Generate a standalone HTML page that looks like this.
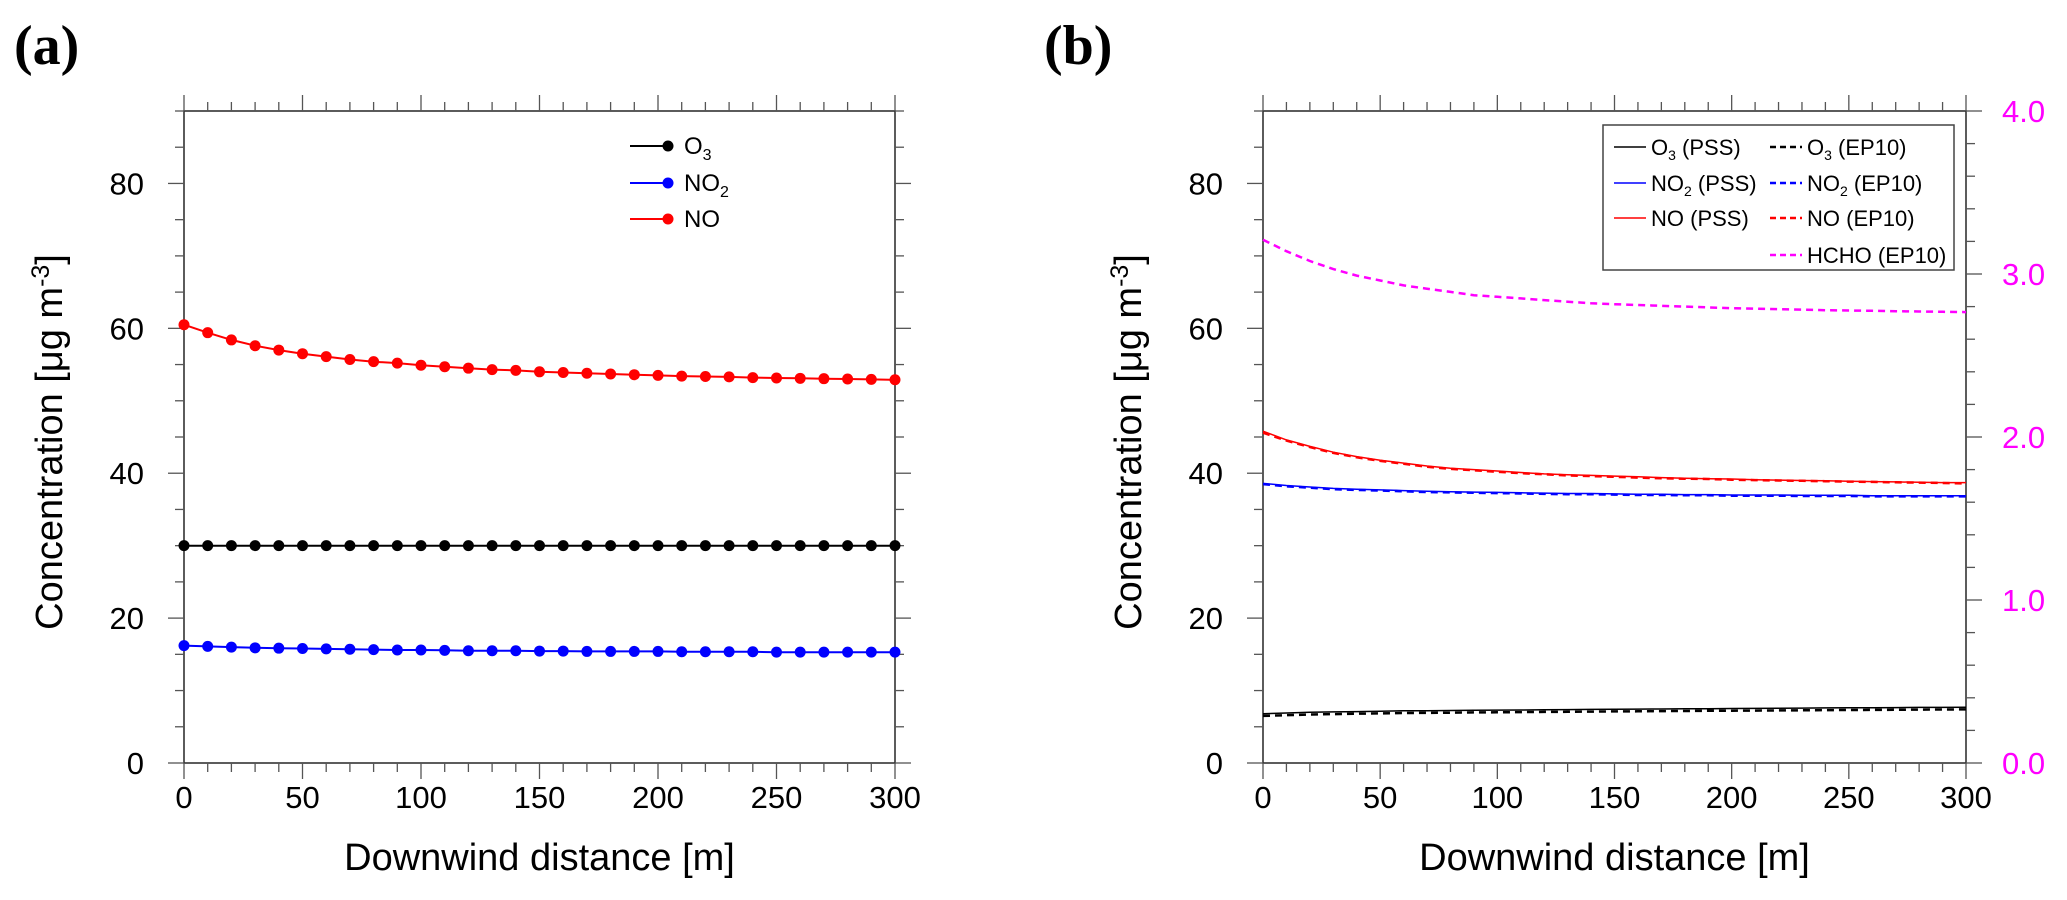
<!DOCTYPE html>
<html><head><meta charset="utf-8"><style>
html,body{margin:0;padding:0;background:#fff;}
svg{display:block;font-family:"Liberation Sans",sans-serif;}
</style></head><body>
<svg id="chart" width="2067" height="900" xmlns="http://www.w3.org/2000/svg"></svg>
<script>
const distances=[0,10,20,30,40,50,60,70,80,90,100,110,120,130,140,150,160,170,180,190,200,210,220,230,240,250,260,270,280,290,300];
const aO3=[30,30,30,30,30,30,30,30,30,30,30,30,30,30,30,30,30,30,30,30,30,30,30,30,30,30,30,30,30,30,30];
const aNO2=[16.2,16.1,16.0,15.9,15.85,15.8,15.75,15.7,15.65,15.6,15.6,15.55,15.5,15.5,15.5,15.45,15.45,15.4,15.4,15.4,15.4,15.35,15.35,15.35,15.35,15.3,15.3,15.3,15.3,15.3,15.3];
const aNO=[60.5,59.4,58.4,57.6,57.0,56.5,56.1,55.7,55.4,55.2,54.9,54.7,54.5,54.3,54.2,54.0,53.9,53.8,53.7,53.6,53.5,53.4,53.35,53.3,53.2,53.15,53.1,53.05,53.0,52.95,52.9];
const bNOpss=[45.8,44.6,43.7,42.9,42.3,41.8,41.4,41.0,40.7,40.5,40.3,40.1,39.9,39.8,39.7,39.6,39.5,39.4,39.3,39.25,39.2,39.1,39.05,39.0,38.95,38.9,38.85,38.8,38.75,38.7,38.7];
const bNOep=[45.6,44.5,43.6,42.8,42.2,41.7,41.3,40.9,40.6,40.4,40.2,40.0,39.85,39.7,39.6,39.5,39.4,39.3,39.25,39.2,39.1,39.05,39.0,38.95,38.9,38.85,38.8,38.75,38.7,38.65,38.6];
const bNO2pss=[38.6,38.3,38.1,37.9,37.8,37.7,37.6,37.5,37.45,37.4,37.35,37.3,37.25,37.2,37.2,37.15,37.1,37.1,37.05,37.05,37.0,37.0,37.0,36.95,36.95,36.95,36.9,36.9,36.9,36.9,36.9];
const bNO2ep=[38.5,38.2,38.0,37.8,37.7,37.6,37.5,37.4,37.35,37.3,37.25,37.2,37.15,37.1,37.1,37.05,37.0,37.0,36.95,36.95,36.9,36.9,36.9,36.85,36.85,36.85,36.8,36.8,36.8,36.8,36.8];
const bO3pss=[6.8,6.9,7.0,7.05,7.1,7.15,7.2,7.22,7.25,7.28,7.3,7.32,7.35,7.37,7.4,7.42,7.44,7.46,7.48,7.5,7.52,7.54,7.56,7.58,7.6,7.62,7.63,7.65,7.67,7.68,7.7];
const bO3ep=[6.5,6.6,6.7,6.75,6.8,6.85,6.9,6.92,6.95,6.98,7.0,7.02,7.05,7.07,7.1,7.12,7.14,7.16,7.18,7.2,7.22,7.24,7.26,7.28,7.3,7.32,7.33,7.35,7.37,7.38,7.4];
const bHCHO=[3.21,3.14,3.08,3.03,2.99,2.96,2.93,2.91,2.89,2.87,2.86,2.85,2.84,2.83,2.82,2.815,2.81,2.805,2.80,2.795,2.79,2.787,2.784,2.781,2.778,2.776,2.774,2.772,2.77,2.768,2.766];
const xTicks=[0,50,100,150,200,250,300];
const yTicks=[0,20,40,60,80];
const y2Ticks=["0.0","1.0","2.0","3.0","4.0"];

const NS="http://www.w3.org/2000/svg";
const svg=document.getElementById('chart');
function el(tag,attrs,parent,text){const e=document.createElementNS(NS,tag);for(const k in attrs)e.setAttribute(k,attrs[k]);if(text!==undefined)e.textContent=text;(parent||svg).appendChild(e);return e;}

const Y0=763,Y1=111;
function makeY(v){return Y0-(v/90)*(Y0-Y1);}
function makeY2(v){return Y0-(v/4)*(Y0-Y1);}

function drawPanel(x0,x1,panel,rightAxis){
  const g=el('g',{});
  
  
  const sx=v=>x0+(v/300)*(x1-x0);
  const ax={stroke:'#333','stroke-width':1.6,fill:'none'};
  const box=el('rect',{x:x0,y:Y1,width:x1-x0,height:Y0-Y1,...ax},g);
  
  
  for(let v=0;v<=300;v+=10){
    const maj=v%50===0,L=maj?16:9;const x=sx(v);
    el('line',{x1:x,x2:x,y1:Y0,y2:Y0+L,stroke:'#555','stroke-width':1.3},g);
    el('line',{x1:x,x2:x,y1:Y1,y2:Y1-L,stroke:'#555','stroke-width':1.3},g);
  }
  xTicks.forEach(v=>{const t=el('text',{x:sx(v),y:808,'font-size':31,'text-anchor':'middle'},g,String(v));
    
    });
  for(let v=0;v<=90;v+=5){
    const maj=v%20===0,L=maj?16:9;const y=makeY(v);
    el('line',{x1:x0,x2:x0-L,y1:y,y2:y,stroke:'#555','stroke-width':1.3},g);
    if(!rightAxis) el('line',{x1:x1,x2:x1+L,y1:y,y2:y,stroke:'#555','stroke-width':1.3},g);
  }
  yTicks.forEach(v=>{const t=el('text',{x:x0-40,y:makeY(v)+11,'font-size':31,'text-anchor':'end'},g,String(v));
    
    });
  if(rightAxis){
    for(let i=0;i<=20;i++){const v=i*0.2;const maj=i%5===0,L=maj?16:9;const y=makeY2(v);
      el('line',{x1:x1,x2:x1+L,y1:y,y2:y,stroke:'#555','stroke-width':1.3},g);}
    y2Ticks.forEach(s=>{const t=el('text',{x:x1+36,y:makeY2(parseFloat(s))+11,'font-size':31,fill:'#ff00ff'},g,s);
      
      });
  }
  const xt=el('text',{x:(x0+x1)/2,y:870,'font-size':38,'text-anchor':'middle'},g,'Downwind distance [m]');
  
  
  const cx=x0-122,cy=(Y0+Y1)/2+5;
  const yt=el('text',{x:cx,y:cy,'font-size':38,'text-anchor':'middle',transform:`rotate(-90 ${cx} ${cy})`},g);
  
  
  el('tspan',{},yt,'Concentration [μg m');
  el('tspan',{dy:-13,'font-size':25},yt,'-3');
  el('tspan',{dy:13},yt,']');
  return {g,sx};
}
function series(p,data,yf,color,dash,w,name){
  const pts=data.map((v,i)=>p.sx(distances[i]).toFixed(1)+','+yf(v).toFixed(1)).join(' ');
  const l=el('polyline',{points:pts,fill:'none',stroke:color,'stroke-width':w,'stroke-dasharray':dash||'none'},p.g);
  
  
  return l;
}

const pa=drawPanel(184,895,'a',false);
[[aO3,'#000','o3'],[aNO2,'#0000ff','no2'],[aNO,'#ff0000','no']].forEach(([d,c,n])=>{
  series(pa,d,makeY,c,null,2,'line-'+n);
  d.forEach((v,i)=>{const m=el('circle',{cx:pa.sx(distances[i]),cy:makeY(v),r:5.5,fill:c},pa.g);
    
    });
});
const legA=el('g',{},pa.g);


[['O','3','#000',146],['NO','2','#0000ff',183],['NO','','#ff0000',219]].forEach(([t,s,c,y])=>{
  el('line',{x1:630,x2:668,y1:y,y2:y,stroke:c,'stroke-width':2},legA);
  el('circle',{cx:668,cy:y,r:5.5,fill:c},legA);
  const tx=el('text',{x:684,y:y+8,'font-size':24},legA,t);
  if(s)el('tspan',{dy:6,'font-size':16},tx,s);
});

const pb=drawPanel(1263,1966,'b',true);
series(pb,bO3pss,makeY,'#000',null,1.5,'line-o3-pss');
series(pb,bO3ep,makeY,'#000','7,5',2.5,'line-o3-ep10');
series(pb,bNO2pss,makeY,'#0000ff',null,1.5,'line-no2-pss');
series(pb,bNO2ep,makeY,'#0000ff','7,5',2.5,'line-no2-ep10');
series(pb,bNOpss,makeY,'#ff0000',null,1.5,'line-no-pss');
series(pb,bNOep,makeY,'#ff0000','7,5',2.5,'line-no-ep10');
series(pb,bHCHO,makeY2,'#ff00ff','7,5',2.5,'line-hcho-ep10');
const legB=el('g',{},pb.g);


el('rect',{x:1603,y:125,width:351,height:145,fill:'#fff',stroke:'#444','stroke-width':1.5},legB);
const rows=[[1614,147,'#000',null,'O','3',' (PSS)'],[1614,183,'#0000ff',null,'NO','2',' (PSS)'],[1614,218,'#ff0000',null,'NO','',' (PSS)'],
 [1770,147,'#000','6,4','O','3',' (EP10)'],[1770,183,'#0000ff','6,4','NO','2',' (EP10)'],[1770,218,'#ff0000','6,4','NO','',' (EP10)'],[1770,255,'#ff00ff','6,4','HCHO','',' (EP10)']];
rows.forEach(([x,y,c,d,t,s,r])=>{
  el('line',{x1:x,x2:x+32,y1:y,y2:y,stroke:c,'stroke-width':d?2.5:1.5,'stroke-dasharray':d||'none'},legB);
  const tx=el('text',{x:x+37,y:y+8,'font-size':22},legB,t);
  if(s)el('tspan',{dy:5,'font-size':14},tx,s);
  el('tspan',{dy:s?-5:0},tx,r);
});

const la=el('text',{x:14,y:64,'font-size':56,'font-weight':'bold','font-family':'Liberation Serif, serif'},svg,'(a)');


const lb=el('text',{x:1044,y:64,'font-size':56,'font-weight':'bold','font-family':'Liberation Serif, serif'},svg,'(b)');


</script>
</body></html>
